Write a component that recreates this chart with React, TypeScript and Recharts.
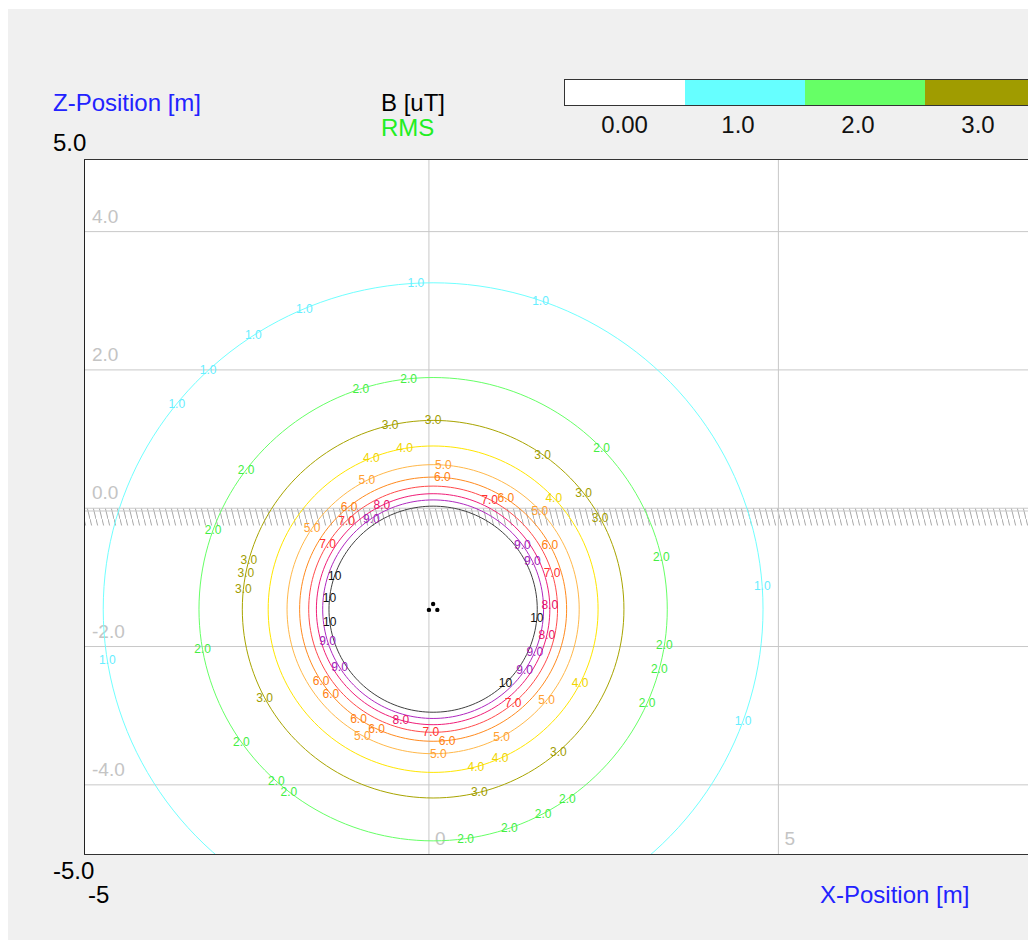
import React from 'react';
import { ScatterChart, Scatter, XAxis, YAxis, ReferenceLine, ReferenceArea } from 'recharts';

// contour levels of B [uT], RMS, and the radius [m] each contour has around the cables
const levelText = ['1.0', '2.0', '3.0', '4.0', '5.0', '6.0', '7.0', '8.0', '9.0', '10'];
const levelRadius = [4.72, 3.35, 2.73, 2.36, 2.09, 1.91, 1.78, 1.67, 1.58, 1.49];
const levelColor = ['#70ffff', '#66ff66', '#a8a400', '#ffe600', '#ffb84a', '#ff8a1e', '#ff4a4a', '#f01e78', '#b028c0', '#404040'];
const labelColor = ['#66eeff', '#44ee44', '#a09c00', '#f0d400', '#ffa030', '#ff8010', '#ff3030', '#e8106a', '#a020b8', '#101010'];

// where the value labels sit on each contour (degrees, counter-clockwise from +x)
const labelAngles = [
  [93, 113, 123, 133, 141, 71, 4, 189, 340],
  [96, 108, 143, 160, 190, 215, 228, 232, 278, 289, 298, 305, 336, 345, 351, 13, 44],
  [90, 103, 55, 38, 29, 165, 169, 174, 208, 284, 311],
  [112, 100, 43, 333, 285, 294],
  [86, 117, 146, 43, 321, 298, 272, 241],
  [86, 57, 29, 129, 213, 220, 236, 245, 276],
  [148, 134, 17, 63, 310, 269],
  [116, 2, 347, 254],
  [124, 36, 26, 337, 326, 212, 197],
  [161, 174, 187, 314, 355],
];

// cable trefoil and field centre [m]
const cableX = [0.0, 0.06, 0.12];
const cableZ = [-1.47, -1.385, -1.47];
const centerX = 0.06;
const centerZ = -1.46;

const zGridTicks = [4, 2, 0, -2, -4];
const xGridTicks = [0, 5];
const groundDepth = -0.25;

const colorbarTicks = ['0.00', '1.0', '2.0', '3.0'];
const colorbarColors = ['#ffffff', '#66ffff', '#66ff66', '#a09c00'];

const FONT = '"Liberation Sans", Arial, sans-serif';

const contourPoints = (r: number) => {
  const pts = [];
  for (let i = 0; i <= 180; i++) {
    const a = (i / 180) * Math.PI * 2;
    pts.push({ x: centerX + r * Math.cos(a), z: centerZ + r * Math.sin(a) });
  }
  return pts;
};

const labelPoints = (idx: number) =>
  labelAngles[idx].map(deg => {
    const a = (deg * Math.PI) / 180;
    return { x: centerX + levelRadius[idx] * Math.cos(a), z: centerZ + levelRadius[idx] * Math.sin(a), t: levelText[idx] };
  });

const cables = cableX.map((x, i) => ({ x, z: cableZ[i] }));

export default function App() {
  return (
    <div style={{ position: 'fixed', left: 8, top: 8, width: 1020, height: 932, overflow: 'hidden', fontFamily: FONT }}>
      <div style={{ position: 'absolute', left: 0, top: 1, right: 0, bottom: 0, background: '#f0f0f0' }} />
      <div style={{ position: 'absolute', left: 76, top: 151, width: 960, height: 695, background: '#fff' }}>
        <ScatterChart width={960} height={695} margin={{ top: 0, right: 0, bottom: 0, left: 0 }}>
          <defs>
            <pattern id="groundHatch" patternUnits="userSpaceOnUse" width={6} height={24}>
              <line x1={0} y1={0} x2={6} y2={24} stroke="#a8a8a8" strokeWidth={1} />
            </pattern>
          </defs>
          <XAxis type="number" dataKey="x" domain={[-4.935, 8.8]} hide allowDataOverflow />
          <YAxis type="number" dataKey="z" domain={[-5, 5.05]} hide allowDataOverflow />
          <ReferenceArea y1={groundDepth} y2={0} fill="url(#groundHatch)" fillOpacity={1} stroke="none" />
          <ReferenceLine y={-0.04} stroke="#c8c8c8" />
          {zGridTicks.map(v => (
            <ReferenceLine
              key={`z${v}`}
              y={v}
              stroke="#c8c8c8"
              label={(p: any) => (
                <text x={p.viewBox.x + 8} y={p.viewBox.y - 9} fill="#c4c4c4" fontSize={19} fontFamily={FONT}>
                  {v.toFixed(1)}
                </text>
              )}
            />
          ))}
          {xGridTicks.map(v => (
            <ReferenceLine
              key={`x${v}`}
              x={v}
              stroke="#c8c8c8"
              label={(p: any) => (
                <text x={p.viewBox.x + 6} y={p.viewBox.y + p.viewBox.height - 9} fill="#c4c4c4" fontSize={19} fontFamily={FONT}>
                  {String(v)}
                </text>
              )}
            />
          ))}
          {levelRadius.map((r, i) => (
            <Scatter
              key={`c${i}`}
              data={contourPoints(r)}
              line={{ stroke: levelColor[i], strokeWidth: 1 }}
              shape={() => <g />}
              isAnimationActive={false}
            />
          ))}
          {levelRadius.map((_, i) => (
            <Scatter
              key={`l${i}`}
              data={labelPoints(i)}
              shape={(p: any) => (
                <text x={p.cx} y={p.cy} textAnchor="middle" dominantBaseline="central" fill={labelColor[i]} fontSize={12} fontFamily={FONT}>
                  {p.payload.t}
                </text>
              )}
              isAnimationActive={false}
            />
          ))}
          <Scatter
            data={cables}
            shape={(p: any) => <circle cx={p.cx} cy={p.cy} r={2.2} fill="#000" />}
            isAnimationActive={false}
          />
        </ScatterChart>
      </div>
      <svg width={1020} height={932} style={{ position: 'absolute', left: 0, top: 0, pointerEvents: 'none' }} fontFamily={FONT}>
        <line x1={76.5} y1={151} x2={76.5} y2={846} stroke="#222" />
        <line x1={76} y1={151.5} x2={1020} y2={151.5} stroke="#333" />
        <line x1={76} y1={846.5} x2={1020} y2={846.5} stroke="#333" />

        <text x={45} y={103} fontSize={24} fill="#2222ff">Z-Position [m]</text>
        <text x={373} y={103} fontSize={24} fill="#000">B [uT]</text>
        <text x={373} y={128} fontSize={24} fill="#22ee22">RMS</text>
        <text x={45} y={143} fontSize={24} fill="#000">5.0</text>
        <text x={45} y={871} fontSize={24} fill="#000">-5.0</text>
        <text x={80} y={895} fontSize={24} fill="#000">-5</text>
        <text x={812} y={895} fontSize={24} fill="#2222ff">X-Position [m]</text>

        {colorbarColors.map((c, i) => (
          <rect key={c} x={556 + (i === 0 ? 0 : 121 + (i - 1) * 120)} y={71} width={i === 0 ? 121 : 120} height={27} fill={c} />
        ))}
        <rect x={556.5} y={71.5} width={520} height={26} fill="none" stroke="#333" />
        {colorbarTicks.map((t, i) => (
          <text key={t} x={616.5 + (i === 0 ? 0 : 113.5 + (i - 1) * 120)} y={125} fontSize={24} fill="#111" textAnchor="middle">
            {t}
          </text>
        ))}
      </svg>
    </div>
  );
}
